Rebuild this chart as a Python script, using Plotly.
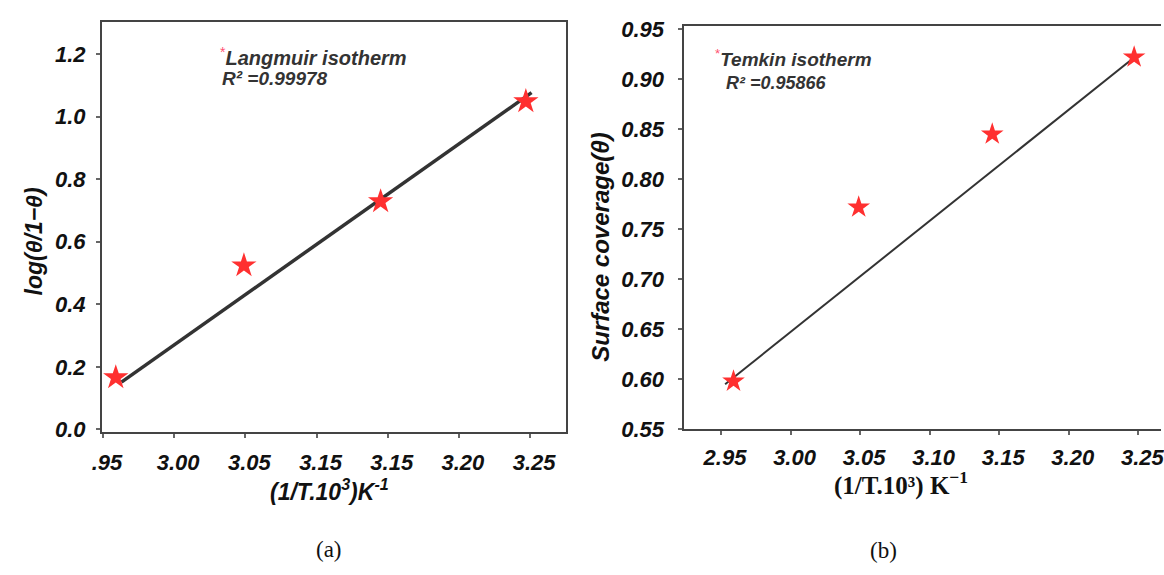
import plotly.graph_objects as go

# ---- data ----
inv_T = [2.959, 3.049, 3.145, 3.247]          # (1/T)*10^3, K^-1
langmuir_log = [0.166, 0.524, 0.729, 1.049]   # log(theta/1-theta)
temkin_theta = [0.598, 0.772, 0.845, 0.922]   # surface coverage

langmuir_fit_x = [2.963, 3.251]
langmuir_fit_y = [0.151, 1.077]
temkin_fit_x = [2.953, 3.249]
temkin_fit_y = [0.595, 0.924]

x_tickvals = [2.95, 3.00, 3.05, 3.10, 3.15, 3.20, 3.25]
left_x_ticktext = [".95", "3.00", "3.05", "3.15", "3.15", "3.20", "3.25"]
right_x_ticktext = ["2.95", "3.00", "3.05", "3.10", "3.15", "3.20", "3.25"]
left_y_tickvals = [0.0, 0.2, 0.4, 0.6, 0.8, 1.0, 1.2]
left_y_ticktext = ["0.0", "0.2", "0.4", "0.6", "0.8", "1.0", "1.2"]
right_y_tickvals = [0.55, 0.60, 0.65, 0.70, 0.75, 0.80, 0.85, 0.90, 0.95]
right_y_ticktext = ["0.55", "0.60", "0.65", "0.70", "0.75", "0.80", "0.85", "0.90", "0.95"]

W, H = 1164, 575
SANS = "Liberation Sans, Arial, sans-serif"
SERIF = "Liberation Serif, Times New Roman, serif"
RED = "#ff3030"
LINE = "#333333"

def px(x):
    return x / W

def py(y):
    return 1 - y / H

fig = go.Figure()

# Left panel (Langmuir)
fig.add_trace(go.Scatter(x=langmuir_fit_x, y=langmuir_fit_y, mode="lines",
                         line=dict(color=LINE, width=3.5), xaxis="x", yaxis="y",
                         showlegend=False, hoverinfo="skip"))
fig.add_trace(go.Scatter(x=inv_T, y=langmuir_log, mode="markers",
                         marker=dict(symbol="star", size=19, color=RED, line=dict(width=0)),
                         xaxis="x", yaxis="y", showlegend=False))

# Right panel (Temkin)
fig.add_trace(go.Scatter(x=temkin_fit_x, y=temkin_fit_y, mode="lines",
                         line=dict(color=LINE, width=2), xaxis="x2", yaxis="y2",
                         showlegend=False, hoverinfo="skip"))
fig.add_trace(go.Scatter(x=inv_T, y=temkin_theta, mode="markers",
                         marker=dict(symbol="star", size=17, color=RED, line=dict(width=0)),
                         xaxis="x2", yaxis="y2", showlegend=False))

tickfont = dict(family=SANS, size=22, color="#111111", weight="bold", style="italic")

common_axis = dict(showgrid=False, zeroline=False, showline=True, linecolor="#444444",
                   linewidth=2, ticks="outside", ticklen=4, tickwidth=1.5,
                   tickcolor="#666666", tickfont=tickfont, tickmode="array",
                   ticklabeloverflow="allow")

fig.update_layout(
    width=W, height=H,
    margin=dict(l=0, r=0, t=0, b=0),
    paper_bgcolor="white", plot_bgcolor="white",
    xaxis=dict(domain=[px(93), px(562)], range=[2.9493, 3.275], anchor="y",
               tickvals=x_tickvals, ticktext=left_x_ticktext, mirror=True,
               ticklabelshift=4, ticklabelstandoff=5, **common_axis),
    yaxis=dict(domain=[py(440), py(14)], range=[-0.009, 1.3015], anchor="x",
               tickvals=left_y_tickvals, ticktext=left_y_ticktext, mirror=True,
               ticklabelstandoff=6, **common_axis),
    xaxis2=dict(domain=[px(682), 1.0], range=[2.9237, 3.2663], anchor="y2",
                tickvals=x_tickvals, ticktext=right_x_ticktext, mirror=True,
                ticklabelshift=4, ticklabelstandoff=3, **common_axis),
    yaxis2=dict(domain=[py(437), py(18)], range=[0.55, 0.9529], anchor="x2",
                tickvals=right_y_tickvals, ticktext=right_y_ticktext, mirror=False,
                ticklabelstandoff=10, **common_axis),
)

annos = [
    # axis titles
    dict(x=px(24), y=py(242), text="<b><i>log(θ/1−θ)</i></b>", textangle=-90,
         font=dict(family=SANS, size=23, color="#111111")),
    dict(x=px(323), y=py(500), text="<b><i>(1/T.10<sup>3</sup>)K<sup>-1</sup></i></b>",
         font=dict(family=SANS, size=23, color="#111111")),
    dict(x=px(597), y=py(248), text="<b><i>Surface coverage(θ)</i></b>", textangle=-90,
         font=dict(family=SANS, size=24, color="#111111")),
    dict(x=px(901), y=py(493), text="<b>(1/T.10³) K<sup>−1</sup></b>",
         font=dict(family=SERIF, size=25, color="#111111")),
    # panel labels
    dict(x=px(323), y=py(562), text="(a)", font=dict(family=SERIF, size=23, color="#111111")),
    dict(x=px(883), y=py(563), text="(b)", font=dict(family=SERIF, size=23, color="#111111")),
    # in-plot legends
    dict(x=px(210), y=py(49), xanchor="left",
         text="<span style='color:#ff5070'><sup>*</sup></span><b><i>Langmuir isotherm</i></b>",
         font=dict(family=SANS, size=20, color="#333333")),
    dict(x=px(212), y=py(72), xanchor="left", text="<b><i>R² =0.99978</i></b>",
         font=dict(family=SANS, size=19, color="#333333")),
    dict(x=px(711), y=py(51), xanchor="left",
         text="<span style='color:#ff5070'><sup>*</sup></span><b><i>Temkin isotherm</i></b>",
         font=dict(family=SANS, size=19, color="#333333")),
    dict(x=px(722), y=py(77), xanchor="left", text="<b><i>R² =0.95866</i></b>",
         font=dict(family=SANS, size=18, color="#333333")),
]
for a in annos:
    a.update(xref="paper", yref="paper", showarrow=False)
    a.setdefault("xanchor", "center")
    a.setdefault("yanchor", "middle")
fig.update_layout(annotations=annos)

fig.write_html("out.html", config={"displayModeBar": False},
               post_script="document.body.style.margin='0px';document.body.style.overflow='hidden';")
